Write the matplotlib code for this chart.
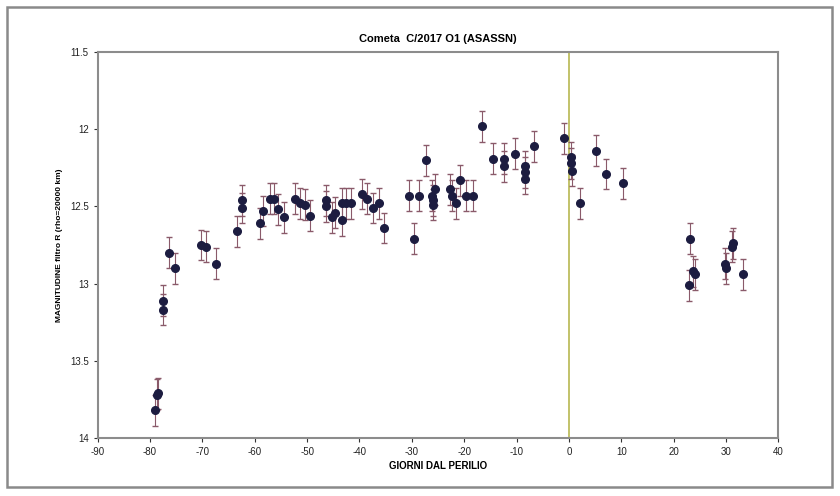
import matplotlib
matplotlib.use("Agg")
import matplotlib.pyplot as plt
from matplotlib.patches import Rectangle

plt.rcParams['font.family'] = ['Liberation Sans', 'DejaVu Sans']

days = [-79.0, -78.6, -78.4, -77.5, -77.5, -76.4, -75.2, -70.3, -69.3, -67.4,
        -63.4, -62.5, -62.5, -59.0, -58.4, -57.1, -56.3, -55.5, -54.4, -52.3,
        -51.4, -50.4, -49.4, -46.4, -46.3, -45.3, -44.7, -43.4, -43.3, -42.6,
        -41.6, -39.6, -38.6, -37.4, -36.2, -35.4, -30.5, -29.5, -28.6, -27.3,
        -26.2, -26.0, -25.6, -25.9, -22.8, -22.4, -21.6, -20.8, -19.7, -18.4,
        -16.7, -14.6, -12.4, -12.4, -10.3, -8.4, -8.4, -8.4, -6.6, -0.9,
        0.3, 0.4, 0.5, 2.1, 5.1, 7.0, 10.4, 23.0, 23.1, 23.7,
        24.1, 29.8, 30.0, 31.2, 31.4, 33.2]
mags = [13.82, 13.72, 13.71, 13.17, 13.11, 12.80, 12.90, 12.75, 12.76, 12.87,
        12.66, 12.46, 12.51, 12.61, 12.53, 12.45, 12.45, 12.52, 12.57, 12.45,
        12.48, 12.49, 12.56, 12.46, 12.50, 12.57, 12.54, 12.59, 12.48, 12.48,
        12.48, 12.42, 12.45, 12.51, 12.48, 12.64, 12.43, 12.71, 12.43, 12.20,
        12.43, 12.46, 12.39, 12.49, 12.39, 12.43, 12.48, 12.33, 12.43, 12.43,
        11.98, 12.19, 12.19, 12.24, 12.16, 12.24, 12.28, 12.32, 12.11, 12.06,
        12.18, 12.22, 12.27, 12.48, 12.14, 12.29, 12.35, 13.01, 12.71, 12.92,
        12.94, 12.87, 12.90, 12.76, 12.74, 12.94]
errs = [0.1] * len(days)

xticks = list(range(-90, 41, 10))
yticks = [11.5, 12, 12.5, 13, 13.5, 14]
ytick_labels = ["11.5", "12", "12.5", "13", "13.5", "14"]

fig = plt.figure(figsize=(8.4, 4.96), dpi=100)
fig.patches.append(Rectangle((7/840, 1-487/496), 825/840, 480/496, transform=fig.transFigure,
                             fill=False, edgecolor='#8a8a8a', linewidth=1.8))
ax = fig.add_axes([97.6/840, 1-438/496, (778.5-97.6)/840, (438-52)/496])

ax.axvline(0, color='#b8b850', linewidth=1.2, zorder=1)

eb = ax.errorbar(days, mags, yerr=errs, fmt='o', color='#1c1c40', markersize=5.5,
                 ecolor='#8a5a6a', elinewidth=0.8, capsize=2.5, capthick=1.0, zorder=3)
for cl in eb[1]:
    cl.set_color('#d8505e')

ax.set_xlim(-90, 40)
ax.set_ylim(14, 11.5)
ax.set_xticks(xticks)
ax.set_xticklabels([str(t) for t in xticks])
ax.set_yticks(yticks)
ax.set_yticklabels(ytick_labels)
ax.tick_params(labelsize=7, colors='#333333', length=3, width=0.8, direction='out')
for tl in ax.get_xticklabels() + ax.get_yticklabels():
    tl.set_color('#222222')
for s in ax.spines.values():
    s.set_color('#8c8c8c')
    s.set_linewidth(1.5)

ax.set_title("Cometa  C/2017 O1 (ASASSN)", fontsize=8, fontweight='bold', pad=7)
ax.set_xlabel("GIORNI DAL PERILIO", fontsize=7, fontweight='bold', labelpad=3)
ax.set_ylabel("MAGNITUDINE filtro R (rho=20000 km)", fontsize=6, fontweight='bold', labelpad=5)

fig.savefig("out.png", dpi=100)
